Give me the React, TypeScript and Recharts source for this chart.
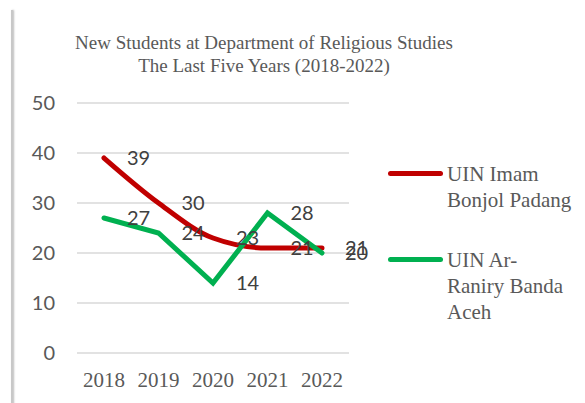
import React from 'react';
import { CartesianGrid, LabelList, Line, LineChart, XAxis, YAxis } from 'recharts';

const years = ['2018', '2019', '2020', '2021', '2022'];
const imamBonjol = [39, 30, 23, 21, 21];
const arRaniry = [27, 24, 14, 28, 20];
const yTicks = [0, 10, 20, 30, 40, 50];

const titleLines = ['New Students at Department of Religious Studies', 'The Last Five Years (2018-2022)'];

const seriesInfo = [
  { key: 'imam', name: 'UIN Imam Bonjol Padang', lines: ['UIN Imam', 'Bonjol Padang'], color: '#C00000' },
  { key: 'raniry', name: 'UIN Ar-Raniry Banda Aceh', lines: ['UIN Ar-', 'Raniry Banda', 'Aceh'], color: '#00B050' },
];

const data = years.map((year, i) => ({ year, imam: imamBonjol[i], raniry: arRaniry[i] }));

const serif = '"Liberation Serif", "Times New Roman", serif';
const sans = 'Lato, "Liberation Sans", sans-serif';

function LegendBox() {
  return (
    <div style={{ fontFamily: serif, fontSize: 21, color: '#595959', lineHeight: '26px' }}>
      {seriesInfo.map((s, idx) => (
        <div key={s.key} style={{ display: 'flex', alignItems: 'flex-start', marginBottom: idx === 0 ? 34 : 0 }}>
          <div style={{ width: 55, height: 5, borderRadius: 3, background: s.color, marginTop: 10, marginRight: 4 }} />
          <div>
            {s.lines.map((l) => (
              <div key={l}>{l}</div>
            ))}
          </div>
        </div>
      ))}
    </div>
  );
}

export default function App() {
  return (
    <div style={{ position: 'absolute', left: 0, top: 0, width: 585, height: 403, background: '#fff', overflow: 'hidden' }}>
      <div style={{ position: 'absolute', left: 11, top: 10, width: 2, height: 400, background: '#c8c8c8', boxShadow: '1px 0 2px #bbb' }} />
      <div
        style={{
          position: 'absolute',
          left: 44,
          width: 440,
          top: 31,
          textAlign: 'center',
          fontFamily: serif,
          fontSize: 19,
          lineHeight: '23px',
          color: '#595959',
        }}
      >
        {titleLines.map((t) => (
          <div key={t}>{t}</div>
        ))}
      </div>
      <div style={{ position: 'absolute', left: 388, top: 161, width: 195 }}>
        <LegendBox />
      </div>
      <LineChart width={585} height={403} data={data} margin={{ top: 103, right: 236, left: 17, bottom: 20 }}>
        <CartesianGrid vertical={false} stroke="#d9d9d9" strokeWidth={1.5} />
        <XAxis
          dataKey="year"
          axisLine={false}
          tickLine={false}
          height={30}
          padding={{ left: 27, right: 27 }}
          tick={{ fill: '#595959', fontSize: 21, fontFamily: serif }}
          dy={11}
        />
        <YAxis
          domain={[0, 50]}
          ticks={yTicks}
          axisLine={false}
          tickLine={false}
          width={60}
          tick={{ fill: '#595959', fontSize: 20, fontFamily: sans }}
          dx={-14}
        />
        <Line
          type="monotone"
          dataKey="imam"
          name={seriesInfo[0].name}
          stroke={seriesInfo[0].color}
          strokeWidth={5}
          strokeLinecap="round"
          dot={false}
          isAnimationActive={false}
        >
          <LabelList dataKey="imam" position="right" offset={23} fill="#404040" fontSize={20} fontFamily={sans} />
        </Line>
        <Line
          type="linear"
          dataKey="raniry"
          name={seriesInfo[1].name}
          stroke={seriesInfo[1].color}
          strokeWidth={5}
          strokeLinecap="round"
          dot={false}
          isAnimationActive={false}
        >
          <LabelList dataKey="raniry" position="right" offset={23} fill="#404040" fontSize={20} fontFamily={sans} />
        </Line>
      </LineChart>
    </div>
  );
}
